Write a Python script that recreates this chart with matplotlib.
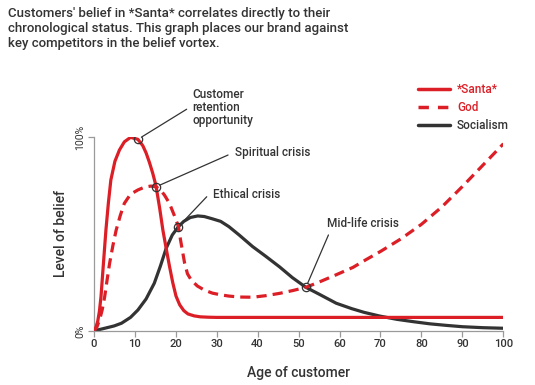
"""
Belief vortex: level of belief in *Santa*, God and Socialism by customer age.
"""

import matplotlib
matplotlib.use("Agg")
import matplotlib.pyplot as plt
from matplotlib.lines import Line2D

# ── Data ─────────────────────────────────────────────────────────────
santa_age = [0, 0.5, 1, 1.4, 1.8, 2.4, 3, 3.6, 4.2, 5.2, 6.3, 7.5, 9, 10.8,
             12, 12.8, 13.6, 14.4, 15.2, 16.1, 16.9, 17.7, 18.5, 19.3, 20.1,
             21, 22, 23, 24.5, 26, 28, 30, 40, 50, 60, 70, 80, 90, 100]
santa_val = [0, 1.5, 5, 10, 17.7, 35, 52, 66, 77.8, 87.5, 93.3, 97.5, 99.8, 98.8,
             95.5, 91.8, 87, 81.5, 75, 63.5, 52, 42.6, 33.5, 25, 18,
             13.5, 10.5, 8.8, 7.8, 7.3, 7.1, 7, 7, 7, 7, 7, 7, 7, 7]

god_age = [0, 0.8, 1.5, 2.1, 2.7, 3.3, 3.9, 4.7, 5.5, 6.5, 7.5, 9, 10.8, 12.5,
           14, 15.2, 16.2, 17.3, 18.5, 19.7, 20.7, 21.2, 21.7, 22.2, 22.9,
           23.8, 25.3, 27, 29, 31.1, 33, 35.6, 38.8, 42, 45.4, 48.5, 51.8, 55,
           59, 63.3, 66.5, 70, 75, 80, 85, 90, 95, 100]
god_val = [0, 2, 6, 11, 17.7, 26.5, 34.9, 44, 52, 59.5, 65.8, 70.5, 72.7, 74.2,
           74.7, 74.3, 73, 70, 65.8, 59.5, 53.8, 47, 41, 35, 29.5,
           26.3, 23.2, 21.1, 19.5, 18.6, 18, 17.5, 17.4, 18.2, 19.4, 20.8, 22.5, 25.2,
           28.8, 32.8, 36.8, 41, 47.5, 55, 64, 74.5, 85.5, 96.5]

socialism_age = [0, 2.7, 5, 6.8, 9, 10.8, 12.8, 14.8, 16.3, 17.7, 19.2, 20.7, 22,
                 23.6, 25.4, 27, 29, 31, 33, 35.5, 38.8, 42, 45.4, 48.5, 51.8, 55,
                 59.2, 63, 66, 69.8, 74, 78, 82, 86, 90, 95, 100]
socialism_val = [0, 1.4, 2.6, 4, 7, 10.8, 16.5, 24.6, 33.5, 42.6, 49.5, 53.8, 56.5,
                 58.5, 59.3, 59, 57.8, 56.5, 53.8, 49.5, 43.5, 38.5, 33, 27.5, 22.5, 19,
                 14.3, 11.5, 9.6, 7.7, 6, 4.8, 3.7, 2.9, 2.2, 1.7, 1.4]

# Annotated crossings: (label, point on curve, end of leader line)
callouts = [
    ("Customer\nretention\nopportunity", (10.8, 98.8), (22.7, 114.3)),
    ("Spiritual crisis", (15.2, 74.3), (32.8, 90.7)),
    ("Ethical crisis", (20.7, 53.8), (27.6, 69.2)),
    ("Mid-life crisis", (51.8, 22.5), (57.3, 49.5)),
]

xticks = [0, 10, 20, 30, 40, 50, 60, 70, 80, 90, 100]

# ── Style ────────────────────────────────────────────────────────────
RED = "#dc1e26"
DARK = "#333333"
GREY = "#9a9a9a"
plt.rcParams["font.family"] = ["Roboto", "DejaVu Sans"]

fig = plt.figure(figsize=(5.35, 3.85), dpi=100)
ax = fig.add_axes([0.175, 0.1403, 0.766, 0.5039])

ax.plot(socialism_age, socialism_val, color=DARK, lw=2.3,
        solid_capstyle="butt", zorder=2)
ax.plot(god_age, god_val, color=RED, lw=2.3, dashes=(3.2, 1.9),
        dash_capstyle="butt", zorder=3)
ax.plot(santa_age, santa_val, color=RED, lw=2.3, solid_capstyle="butt",
        zorder=4)

ax.set_xlim(0, 100)
ax.set_ylim(0, 100)

for label, pt, end in callouts:
    ax.plot(pt[0], pt[1], "o", mfc="none", mec=DARK, ms=6, mew=0.9, zorder=5)
    ax.annotate("", xy=pt, xytext=end, annotation_clip=False,
                arrowprops=dict(arrowstyle="-", color=DARK, lw=0.9,
                                shrinkA=0, shrinkB=3))

tx = dict(fontsize=8.5, color=DARK, fontweight="medium")
ax.text(24.1, 125.2, callouts[0][0], va="top", ha="left", linespacing=1.0, **tx)
ax.text(34.5, 91.9, callouts[1][0], va="center", ha="left", **tx)
ax.text(29.2, 70.6, callouts[2][0], va="center", ha="left", **tx)
ax.text(56.9, 55.2, callouts[3][0], va="center", ha="left", **tx)

# axes
for s in ["top", "right"]:
    ax.spines[s].set_visible(False)
for s in ["left", "bottom"]:
    ax.spines[s].set_color(GREY)
    ax.spines[s].set_linewidth(0.9)
ax.set_xticks(xticks)
ax.set_xticklabels([str(t) for t in xticks], fontsize=8, color=DARK,
                   fontweight="medium")
ax.set_yticks([0, 100])
ax.set_yticklabels(["0%", "100%"], rotation=90, va="center", fontsize=7.5,
                   color=DARK)
ax.tick_params(axis="both", length=4, width=0.9, color=GREY, pad=2)
ax.set_xlabel("Age of customer", fontsize=10, color=DARK, labelpad=12,
              fontweight="medium")
ax.set_ylabel("Level of belief", fontsize=10, color=DARK, labelpad=5,
              fontweight="medium")

# legend
handles = [
    Line2D([], [], color=RED, lw=2.5, solid_capstyle="round"),
    Line2D([], [], color=RED, lw=2.5, dashes=(3.0, 2.6)),
    Line2D([], [], color=DARK, lw=2.5, solid_capstyle="round"),
]
leg = fig.legend(handles, ["*Santa*", "God", "Socialism"], loc="upper left",
                 bbox_to_anchor=(418 / 535, 1 - 83 / 385), frameon=False,
                 prop=dict(size=8.5, weight="medium"), handlelength=2.7,
                 handletextpad=0.6, labelspacing=0.42, borderpad=0,
                 borderaxespad=0, labelcolor=[RED, RED, DARK])

# title
fig.text(8 / 535, 1 - 7 / 385,
         "Customers' belief in *Santa* correlates directly to their\n"
         "chronological status. This graph places our brand against\n"
         "key competitors in the belief vortex.",
         va="top", ha="left", fontsize=9.5, color=DARK, fontweight="medium",
         linespacing=1.22)

fig.savefig("out.png", dpi=100)
